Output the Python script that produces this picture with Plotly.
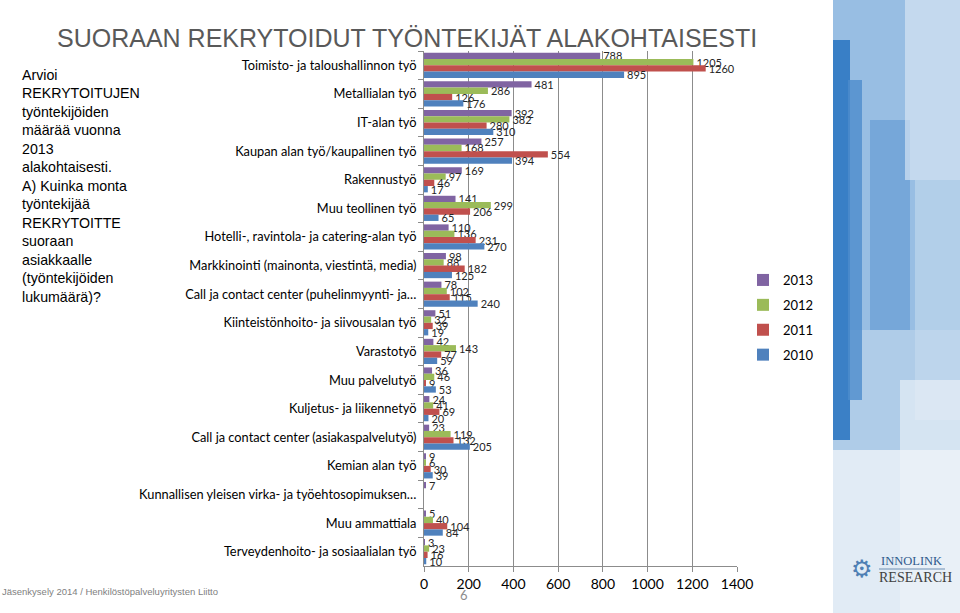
import plotly.graph_objects as go

categories = [
    "Toimisto- ja taloushallinnon työ",
    "Metallialan työ",
    "IT-alan työ",
    "Kaupan alan työ/kaupallinen työ",
    "Rakennustyö",
    "Muu teollinen työ",
    "Hotelli-, ravintola- ja catering-alan työ",
    "Markkinointi (mainonta, viestintä, media)",
    "Call ja contact center (puhelinmyynti- ja…",
    "Kiinteistönhoito- ja siivousalan työ",
    "Varastotyö",
    "Muu palvelutyö",
    "Kuljetus- ja liikennetyö",
    "Call ja contact center (asiakaspalvelutyö)",
    "Kemian alan työ",
    "Kunnallisen yleisen virka- ja työehtosopimuksen…",
    "Muu ammattiala",
    "Terveydenhoito- ja sosiaalialan työ",
]

v2013 = [788, 481, 392, 257, 169, 141, 110, 98, 78, 51, 42, 36, 24, 23, 9, 7, 5, 3]
v2012 = [1205, 286, 382, 168, 97, 299, 136, 88, 102, 32, 143, 46, 41, 119, 6, None, 40, 23]
v2011 = [1260, 126, 280, 554, 46, 206, 231, 182, 115, 39, 77, 9, 69, 132, 30, None, 104, 16]
v2010 = [895, 176, 310, 394, 17, 65, 270, 125, 240, 19, 59, 53, 20, 205, 39, None, 84, 10]

series_names = ["2013", "2012", "2011", "2010"]
series_values = [v2013, v2012, v2011, v2010]
series_colors = ["#8064A2", "#9BBB59", "#C0504D", "#4F81BD"]

x_ticks = [0, 200, 400, 600, 800, 1000, 1200, 1400]

W, H = 960, 613
L, R, T, B = 424, 223, 51, 47
PW = W - L - R
PH = H - T - B


def px(x):
    return (x - L) / PW


def py(y):
    return (H - B - y) / PH


fig = go.Figure()
for name, vals, col in zip(series_names, series_values, series_colors):
    fig.add_trace(go.Bar(
        name=name, y=categories, x=vals, orientation="h",
        marker=dict(color=col, line=dict(width=0)),
        text=[("" if v is None else str(v)) for v in vals],
        textposition="outside", constraintext="none", cliponaxis=False,
        textfont=dict(family="Lato", size=11, color="#262626"),
        legendgroup=name,
    ))

shapes = []


def rect(x0, y0, x1, y1, color, op=1.0):
    shapes.append(dict(type="rect", xref="paper", yref="paper",
                       x0=px(x0), x1=px(x1), y0=py(y1), y1=py(y0),
                       fillcolor=color, opacity=op, line=dict(width=0), layer="below"))


# decorative sky strip on the right
rect(833, 0, 960, 613, "#c9dcee")
rect(833, 0, 960, 330, "#8fb8e0", 0.85)
rect(833, 330, 960, 450, "#a9c8e6", 0.8)
rect(833, 40, 850, 440, "#2f78c2", 0.9)
rect(848, 80, 862, 400, "#4d8ccc", 0.8)
rect(870, 120, 910, 330, "#5f98d2", 0.6)
rect(905, 0, 960, 180, "#dce8f4", 0.65)
rect(915, 180, 960, 420, "#c8dcef", 0.55)
rect(833, 450, 960, 613, "#e3ecf5", 0.9)
rect(900, 380, 960, 613, "#eef3f8", 0.6)

annotations = [
    dict(text="SUORAAN REKRYTOIDUT TYÖNTEKIJÄT ALAKOHTAISESTI", x=px(55), y=py(38),
         xref="paper", yref="paper", xanchor="left", yanchor="middle", showarrow=False,
         font=dict(family="Liberation Sans", size=25, color="#595959")),
    dict(text="Arvioi<br>REKRYTOITUJEN<br>työntekijöiden<br>määrää vuonna<br>2013<br>alakohtaisesti.<br>"
              "A) Kuinka monta<br>työntekijää<br>REKRYTOITTE<br>suoraan<br>asiakkaalle<br>(työntekijöiden<br>lukumäärä)?",
         x=px(20), y=py(65), xref="paper", yref="paper", xanchor="left", yanchor="top",
         align="left", showarrow=False,
         font=dict(family="Liberation Sans", size=14.2, color="#000000")),
    dict(text="Jäsenkysely 2014 / Henkilöstöpalveluyritysten Liitto", x=px(0), y=py(591),
         xref="paper", yref="paper", xanchor="left", yanchor="middle", showarrow=False,
         font=dict(family="Liberation Sans", size=9.5, color="#7f7f7f")),
    dict(text="6", x=px(464), y=py(595), xref="paper", yref="paper", xanchor="center",
         yanchor="middle", showarrow=False,
         font=dict(family="Lato", size=13, color="#8c8c8c")),
    dict(text="⚙", x=px(862), y=py(569), xref="paper", yref="paper", xanchor="center",
         yanchor="middle", showarrow=False,
         font=dict(family="DejaVu Sans", size=24, color="#4f7fb4")),
    dict(text="INNOLINK", x=px(879), y=py(561), xref="paper", yref="paper", xanchor="left",
         yanchor="middle", showarrow=False,
         font=dict(family="Liberation Serif", size=12.5, color="#2f5a8c")),
    dict(text="RESEARCH", x=px(877), y=py(577), xref="paper", yref="paper", xanchor="left",
         yanchor="middle", showarrow=False,
         font=dict(family="Liberation Serif", size=14, color="#404040")),
]
shapes.append(dict(type="line", xref="paper", yref="paper", x0=px(879), x1=px(945),
                   y0=py(569), y1=py(569), line=dict(color="#6f8fb3", width=1)))

fig.update_layout(
    width=W, height=H,
    margin=dict(l=L, r=R, t=T, b=B, autoexpand=False),
    paper_bgcolor="white", plot_bgcolor="white",
    barmode="group", bargap=0.12, bargroupgap=0,
    showlegend=True,
    legend=dict(x=px(743), y=py(265), xanchor="left", yanchor="top",
                font=dict(family="Lato", size=13, color="#000000"),
                tracegroupgap=5, traceorder="grouped", bgcolor="rgba(0,0,0,0)"),
    xaxis=dict(range=[0, 1400], tickvals=x_ticks, ticktext=[str(t) for t in x_ticks],
               showgrid=True, gridcolor="#8c8c8c", gridwidth=1,
               showline=True, linecolor="#8c8c8c", ticks="outside", ticklen=5,
               tickcolor="#8c8c8c", zeroline=False,
               tickfont=dict(family="Lato", size=14, color="#000000")),
    yaxis=dict(autorange="reversed", showline=True, linecolor="#8c8c8c",
               ticks="outside", ticklen=5, tickcolor="#8c8c8c", tickson="boundaries",
               showgrid=False, ticklabelstandoff=4,
               tickfont=dict(family="Lato", size=12.8, color="#000000")),
    shapes=shapes, annotations=annotations,
)

fig.write_html("out.html", config={"displayModeBar": False},
               post_script="document.body.style.margin='0';document.body.style.padding='0';")
